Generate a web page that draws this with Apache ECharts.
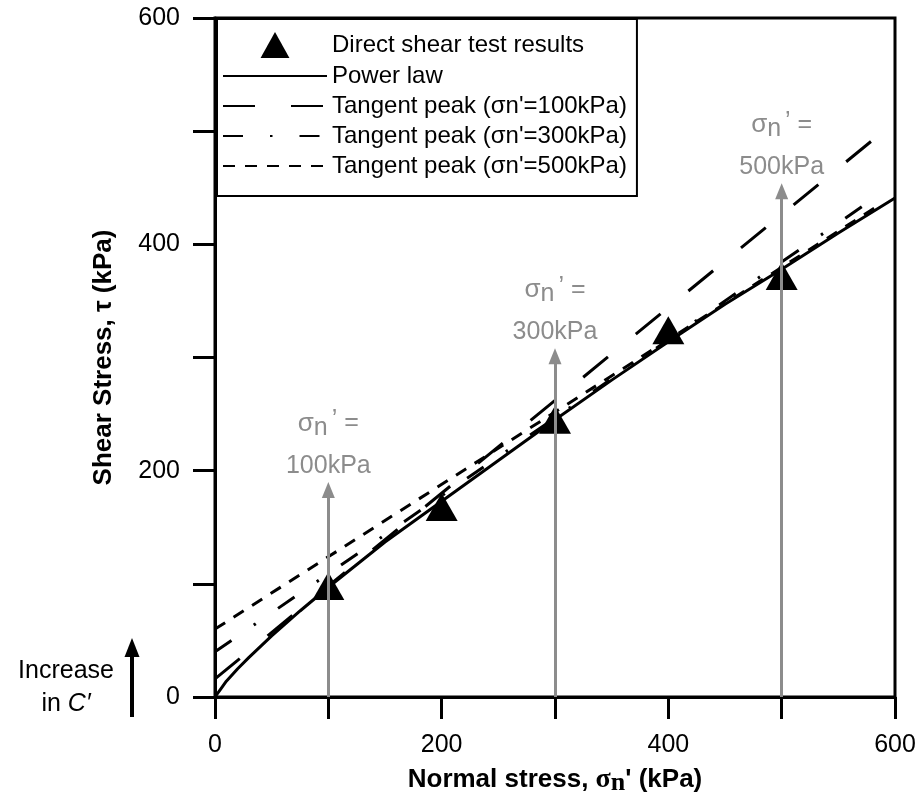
<!DOCTYPE html>
<html><head><meta charset="utf-8">
<script src="https://cdn.jsdelivr.net/npm/echarts@6/dist/echarts.min.js"></script>
<style>html,body{margin:0;padding:0;background:#fff}#c{width:922px;height:809px}</style>
</head><body><div id="c"></div>
<script>
// ---- data ----
const xTicks = [0, 100, 200, 300, 400, 500, 600];
const xTickLabels = ['0', '', '200', '', '400', '', '600'];
const yTicks = [0, 100, 200, 300, 400, 500, 600];
const yTickLabels = ['0', '', '200', '', '400', '', '600'];

const testSigma = [100, 200, 300, 400, 500];
const testTau = [98, 168, 245, 324, 372];

const powerSigma = [0, 5, 10, 20, 30, 50, 75, 100, 150, 200, 250, 300, 350, 400, 450, 500, 550, 600];
const powerTau = [0, 7, 14, 25, 35, 54, 76, 97, 137, 173, 209, 245, 280, 314, 347, 378, 410, 441];

const tan100Sigma = [0, 585];
const tan100Tau = [16, 496];
const tan300Sigma = [0, 585];
const tan300Tau = [40, 443];
const tan500Sigma = [0, 585];
const tan500Tau = [60, 434];

const arrowSigma = [100, 300, 500];
const arrowTop = [183, 301, 447];
const arrowLabels = ['100kPa', '300kPa', '500kPa'];

const seriesNames = ['Direct shear test results', 'Power law',
  "Tangent peak (σn'=100kPa)", "Tangent peak (σn'=300kPa)", "Tangent peak (σn'=500kPa)"];

// ---- chart ----
const F = "'Liberation Sans', Arial, Helvetica, sans-serif";
const SERIF = "'Liberation Serif', 'Times New Roman', serif";
const grey = '#8c8c8c';
const pairs = (xs, ys) => xs.map((x, i) => [x, ys[i]]);
const chart = echarts.init(document.getElementById('c'), null, {renderer: 'canvas'});
const hideSym = {color: 'rgba(0,0,0,0)', borderColor: 'rgba(0,0,0,0)', borderWidth: 0};

const option = {
  animation: false,
  backgroundColor: '#fff',
  textStyle: {fontFamily: F},
  grid: {left: 215, right: 27, top: 18, bottom: 112, show: true, borderColor: '#000', borderWidth: 3},
  legend: {
    orient: 'vertical', left: 217, top: 19,
    itemWidth: 104, itemHeight: 26, itemGap: 6,
    padding: [13, 10, 18, 5],
    backgroundColor: '#fff', borderColor: '#000', borderWidth: 2,
    textStyle: {fontSize: 24, color: '#000', fontFamily: F},
    symbolKeepAspect: true,
    data: [
      {name: seriesNames[0], icon: 'path://M15,0L30,27L0,27Z', itemStyle: {color: '#000'}},
      {name: seriesNames[1], itemStyle: hideSym},
      {name: seriesNames[2], itemStyle: hideSym},
      {name: seriesNames[3], itemStyle: hideSym},
      {name: seriesNames[4], itemStyle: hideSym}
    ]
  },
  xAxis: {
    type: 'value', min: 0, max: 600, interval: 100,
    axisLine: {lineStyle: {color: '#000', width: 3}},
    axisTick: {show: true, length: 22, lineStyle: {color: '#000', width: 3}},
    axisLabel: {formatter: v => { const i = xTicks.indexOf(v); return i >= 0 ? xTickLabels[i] : ''; },
      fontSize: 25, color: '#000', margin: 36, fontFamily: F},
    splitLine: {show: false},
    name: "{b|Normal stress, }{s|σ}{sn|n}{b|' (kPa)}",
    nameLocation: 'middle', nameGap: 69,
    nameTextStyle: {
      rich: {
        b: {fontSize: 26, fontWeight: 'bold', fontFamily: F, color: '#000', padding: [0, 0, 6, 0]},
        s: {fontSize: 28, fontWeight: 'bold', fontFamily: SERIF, color: '#000', padding: [0, 0, 6, 0]},
        sn: {fontSize: 26, fontWeight: 'bold', fontFamily: SERIF, color: '#000'}
      }
    }
  },
  yAxis: {
    type: 'value', min: 0, max: 600, interval: 100,
    axisLine: {lineStyle: {color: '#000', width: 3}},
    axisTick: {show: true, length: 22, lineStyle: {color: '#000', width: 3}},
    axisLabel: {formatter: v => { const i = yTicks.indexOf(v); return i >= 0 ? yTickLabels[i] : ''; },
      fontSize: 25, color: '#000', margin: 35, fontFamily: F},
    splitLine: {show: false},
    name: 'Shear Stress, τ (kPa)',
    nameLocation: 'middle', nameGap: 98,
    nameTextStyle: {fontSize: 26, fontWeight: 'bold', color: '#000', fontFamily: F}
  },
  graphic: [
    {type: 'text', x: 66, y: 688, z: 10,
      style: {text: '{r|Increase}\n{r|in }{c|C′}', align: 'center', verticalAlign: 'middle', fill: '#000',
        rich: {r: {fontSize: 25, fontFamily: F, lineHeight: 33, fill: '#000'},
               c: {fontSize: 25, fontFamily: F, fontStyle: 'italic', lineHeight: 33, fill: '#000'}}}},
    {type: 'line', z: 10, shape: {x1: 132, y1: 717, x2: 132, y2: 652}, style: {stroke: '#000', lineWidth: 4}},
    {type: 'polygon', z: 10, shape: {points: [[132, 638], [124.5, 657], [139.5, 657]]}, style: {fill: '#000'}}
  ],
  series: [
    {name: seriesNames[1], type: 'line', data: pairs(powerSigma, powerTau), symbol: 'none', showSymbol: false,
      smooth: false, lineStyle: {color: '#000', width: 3}, itemStyle: {color: '#000'}, z: 2},
    {name: seriesNames[2], type: 'line', data: pairs(tan100Sigma, tan100Tau), symbol: 'none', showSymbol: false,
      lineStyle: {color: '#000', width: 3, type: [32, 36]}, itemStyle: {color: '#000'}, z: 2},
    {name: seriesNames[3], type: 'line', data: pairs(tan300Sigma, tan300Tau), symbol: 'none', showSymbol: false,
      lineStyle: {color: '#000', width: 3, type: [20, 27, 2.5, 27]}, itemStyle: {color: '#000'}, z: 2},
    {name: seriesNames[4], type: 'line', data: pairs(tan500Sigma, tan500Tau), symbol: 'none', showSymbol: false,
      lineStyle: {color: '#000', width: 3, type: [12, 10]}, itemStyle: {color: '#000'}, z: 2},
    {name: seriesNames[0], type: 'scatter', data: pairs(testSigma, testTau), symbol: 'triangle',
      symbolSize: [32, 28], itemStyle: {color: '#000', opacity: 1}, z: 3},
    {name: 'arrows', type: 'scatter', data: [], z: 5,
      markLine: {
        silent: true, animation: false, symbol: ['none', 'triangle'], symbolSize: [13, 16],
        lineStyle: {color: grey, width: 3, type: 'solid'},
        itemStyle: {color: grey},
        label: {
          show: true, position: 'end', distance: 6, color: grey,
          formatter: p => '{s|σ}{n|n}{q|’}{e| =}\n{v|' + arrowLabels[p.dataIndex] + '}',
          rich: {
            s: {fontSize: 26, fontFamily: F, color: grey, padding: [0, 0, 9, 0]},
            n: {fontSize: 25, fontFamily: F, color: grey},
            q: {fontSize: 25, fontFamily: F, color: grey, padding: [0, 0, 15, 4]},
            e: {fontSize: 25, fontFamily: F, color: grey, padding: [0, 0, 9, 0]},
            v: {fontSize: 25, fontFamily: F, color: grey, lineHeight: 36}
          }
        },
        data: arrowSigma.map((x, i) => [{coord: [x, 0]}, {coord: [x, arrowTop[i]]}])
      }}
  ]
};
chart.setOption(option);
</script>
</body></html>
